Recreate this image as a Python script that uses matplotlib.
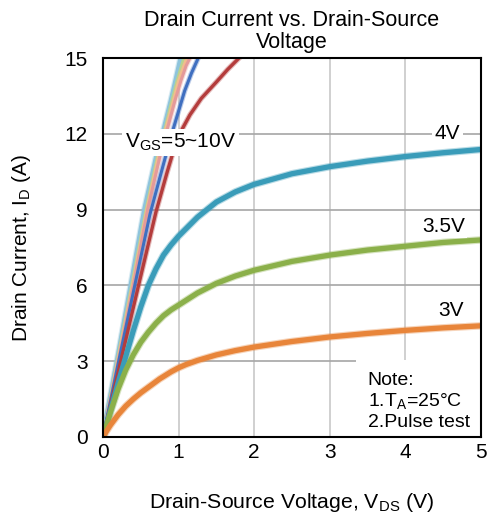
import matplotlib
matplotlib.use("Agg")
import matplotlib.pyplot as plt

plt.rcParams['font.family'] = ['Liberation Sans', 'DejaVu Sans']
plt.rcParams['mathtext.fontset'] = 'custom'
plt.rcParams['mathtext.rm'] = 'Liberation Sans'

# V_DS (V) / I_D (A)
vds_3v = [0, 0.05, 0.1, 0.2, 0.3, 0.4, 0.5, 0.6, 0.75, 0.9, 1.0, 1.1, 1.25, 1.5, 1.75, 2.0, 2.5, 3.0, 3.5, 4.0, 4.5, 5.0]
id_3v = [0, 0.25, 0.48, 0.88, 1.22, 1.5, 1.75, 1.97, 2.3, 2.58, 2.74, 2.87, 3.03, 3.25, 3.42, 3.56, 3.78, 3.96, 4.1, 4.22, 4.32, 4.4]

vds_3p5v = [0, 0.1, 0.2, 0.3, 0.4, 0.5, 0.6, 0.7, 0.8, 0.9, 1.0, 1.25, 1.5, 1.75, 2.0, 2.5, 3.0, 3.5, 4.0, 4.5, 5.0]
id_3p5v = [0, 1.0, 1.9, 2.65, 3.25, 3.75, 4.15, 4.5, 4.8, 5.03, 5.22, 5.7, 6.08, 6.37, 6.6, 6.95, 7.2, 7.4, 7.55, 7.7, 7.8]

vds_4v = [0, 0.2, 0.4, 0.5, 0.6, 0.7, 0.8, 0.9, 1.0, 1.25, 1.5, 1.75, 2.0, 2.5, 3.0, 3.5, 4.0, 4.5, 5.0]
id_4v = [0, 2.15, 4.2, 5.15, 6.0, 6.65, 7.2, 7.6, 7.95, 8.7, 9.3, 9.7, 10.0, 10.42, 10.7, 10.92, 11.1, 11.25, 11.38]

vds_5v = [0, 0.25, 0.47, 0.7, 0.85, 0.95, 1.05, 1.15, 1.3, 1.5, 1.65, 1.8, 1.9]
id_5v = [0, 3.2, 6.0, 8.9, 10.5, 11.5, 12.2, 12.75, 13.4, 14.05, 14.55, 15.0, 15.3]

vds_6v = [0, 0.2, 0.42, 0.62, 0.8, 0.91, 1.0, 1.08, 1.17, 1.26, 1.32]
id_6v = [0, 2.9, 6.0, 8.8, 10.8, 12.0, 12.9, 13.7, 14.4, 15.0, 15.4]

vds_7v = [0, 0.2, 0.4, 0.59, 0.76, 0.86, 0.95, 1.03, 1.1, 1.15, 1.2]
id_7v = [0, 3.0, 6.0, 9.0, 11.2, 12.3, 13.3, 14.1, 14.7, 15.0, 15.3]

vds_8v = [0, 0.2, 0.39, 0.58, 0.74, 0.84, 0.93, 1.0, 1.07, 1.11, 1.15]
id_8v = [0, 3.1, 6.0, 9.0, 11.2, 12.3, 13.3, 14.1, 14.7, 15.0, 15.3]

vds_9v = [0, 0.2, 0.38, 0.57, 0.72, 0.82, 0.91, 0.98, 1.04, 1.07, 1.11]
id_9v = [0, 3.2, 6.0, 9.0, 11.1, 12.2, 13.3, 14.1, 14.7, 15.0, 15.4]

vds_10v = [0, 0.2, 0.37, 0.55, 0.7, 0.8, 0.9, 0.97, 1.0, 1.03, 1.08]
id_10v = [0, 3.2, 6.0, 9.0, 11.0, 12.1, 13.3, 14.2, 14.6, 15.0, 15.5]

curves = [
    (vds_10v, id_10v, '#8ec4dc', 3.6),
    (vds_9v, id_9v, '#b9d38f', 2.2),
    (vds_8v, id_8v, '#f2bc8e', 2.2),
    (vds_7v, id_7v, '#e49a9a', 2.2),
    (vds_6v, id_6v, '#3f6fc0', 2.2),
    (vds_5v, id_5v, '#b43c3c', 2.4),
    (vds_4v, id_4v, '#3a9cb9', 3.8),
    (vds_3p5v, id_3p5v, '#8bb04a', 3.8),
    (vds_3v, id_3v, '#e8853a', 3.8),
]

fig = plt.figure(figsize=(4.88, 5.18), dpi=100)
ax = fig.add_axes([103/488, 1-437/518, 378/488, 379/518])

for x in [1, 2, 3, 4]:
    ax.axvline(x, color='#c8c8c8', lw=1.2, zorder=0)
for y in [3, 6, 9, 12]:
    ax.axhline(y, color='#a6a6a6', lw=1.2, zorder=0)

for xs, ys, c, w in curves:
    ax.plot(xs, ys, color=c, lw=w + 1.6, alpha=0.35, solid_capstyle='round', solid_joinstyle='round', zorder=2)
    ax.plot(xs, ys, color=c, lw=w, solid_capstyle='round', solid_joinstyle='round', zorder=3)

ax.set_xlim(0, 5)
ax.set_ylim(0, 15)
ax.set_xticks([0, 1, 2, 3, 4, 5])
ax.set_yticks([0, 3, 6, 9, 12, 15])
ax.tick_params(length=0, labelsize=15)
ax.tick_params(axis='x', pad=4)
ax.tick_params(axis='y', pad=11)
for s in ax.spines.values():
    s.set_linewidth(1.5)
    s.set_zorder(6)

ax.set_title("Drain Current vs. Drain-Source\nVoltage", fontsize=15.5, linespacing=1.05, pad=7.5)
ax.set_xlabel(r"Drain-Source Voltage, V$_{\mathrm{DS}}$ (V)", fontsize=15.3, labelpad=21)
ax.set_ylabel(r"Drain Current, I$_{\mathrm{D}}$ (A)", fontsize=15, labelpad=23)

white = dict(facecolor='white', edgecolor='none', pad=2)
ax.text(0.29, 11.67, r"V$_{\mathrm{GS}}$=5~10V", fontsize=15, va='center', ha='left', bbox=white, zorder=5)
ax.text(4.56, 12.0, "4V", fontsize=15, va='center', ha='center', bbox=white, zorder=5)
ax.text(4.5, 8.35, "3.5V", fontsize=15, va='center', ha='center', bbox=white, zorder=5)
ax.text(4.6, 5.0, "3V", fontsize=15, va='center', ha='center', bbox=white, zorder=5)
ax.text(3.5, 0.22, "Note:\n1.T$_{\\mathrm{A}}$=25°C\n2.Pulse test", fontsize=14, va='bottom', ha='left',
        linespacing=1.18, zorder=5,
        bbox=dict(facecolor='white', edgecolor='none', boxstyle='square,pad=0.6'))

fig.savefig("out.png", dpi=100)
